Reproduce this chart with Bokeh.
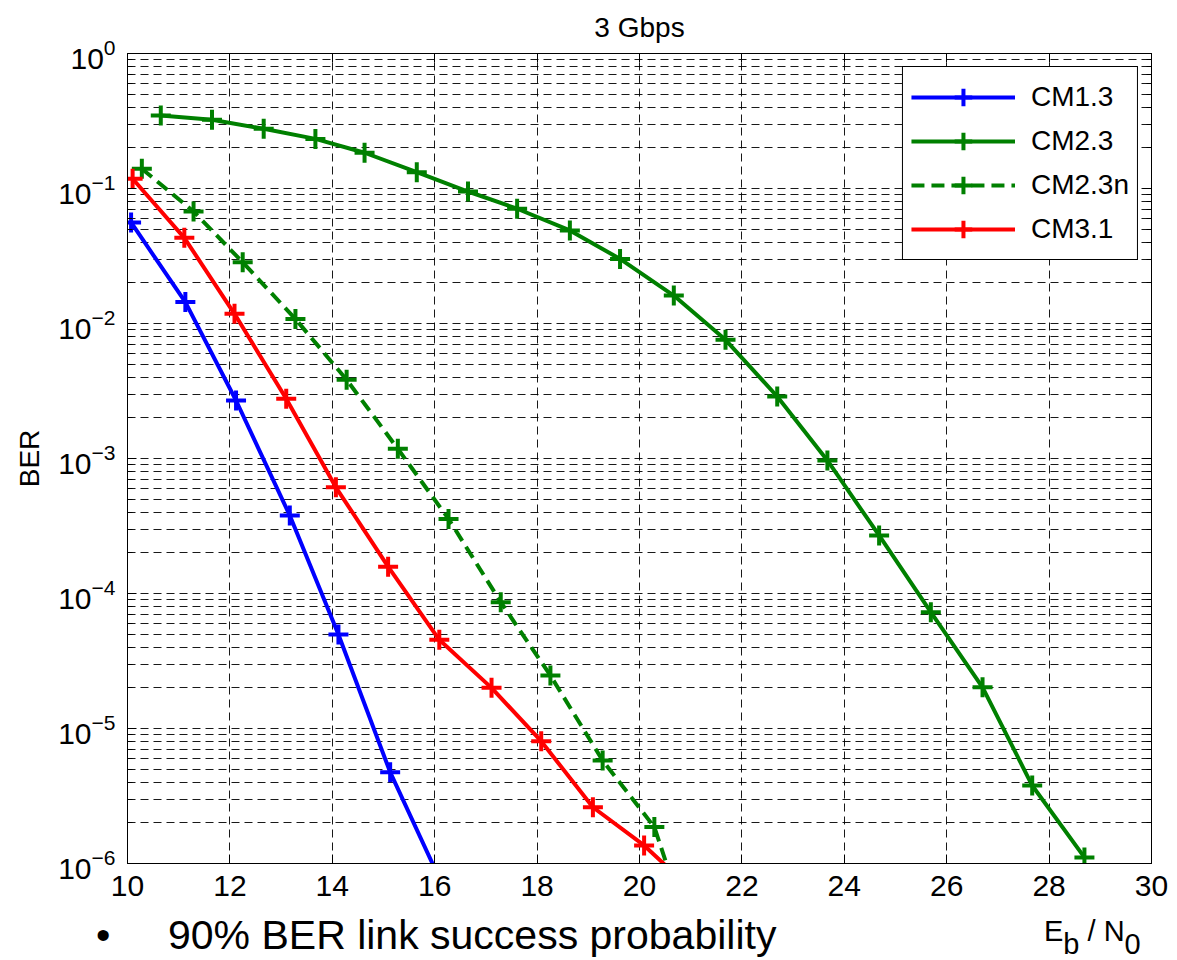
from bokeh.plotting import figure
from bokeh.layouts import column
from bokeh.models import (FixedTicker, LinearAxis, LogAxis, CustomJSTickFormatter, Div)
from bokeh.embed import file_html
from bokeh.resources import INLINE

# ---------------- data ----------------
x_ticks = [10, 12, 14, 16, 18, 20, 22, 24, 26, 28, 30]
y_ticks = [1e-6, 1e-5, 1e-4, 1e-3, 1e-2, 1e-1, 1e0]
y_minor = [m * 10.0 ** e for e in range(-6, 0) for m in range(2, 10)]

cm13_x = [10.07, 11.13, 12.12, 13.17, 14.12, 15.13, 16.13]
cm13_y = [0.056, 0.0144, 0.00269, 3.78e-4, 4.97e-5, 4.75e-6, 7.2e-7]

cm23_x = [10.65, 11.65, 12.66, 13.67, 14.63, 15.65, 16.65, 17.61, 18.64, 19.62,
          20.67, 21.68, 22.69, 23.67, 24.68, 25.69, 26.70, 27.67, 28.69]
cm23_y = [0.347, 0.323, 0.277, 0.233, 0.184, 0.132, 0.095, 0.0708, 0.0489, 0.0301,
          0.0161, 0.00757, 0.00288, 9.67e-4, 2.69e-4, 7.27e-5, 2.02e-5, 3.78e-6, 1.11e-6]

cm23n_x = [10.28, 11.29, 12.25, 13.28, 14.28, 15.28, 16.27, 17.29, 18.26, 19.28, 20.29, 21.3]
cm23n_y = [0.140, 0.0676, 0.0284, 0.0108, 0.00383, 0.00118, 3.57e-4, 8.63e-5, 2.47e-5,
           5.8e-6, 1.86e-6, 1.3e-7]

cm31_x = [10.10, 11.11, 12.09, 13.10, 14.07, 15.09, 16.09, 17.11, 18.08, 19.09, 20.09, 21.1]
cm31_y = [0.118, 0.0431, 0.0118, 0.00277, 6.12e-4, 1.58e-4, 4.54e-5, 2.0e-5, 8.05e-6,
          2.61e-6, 1.36e-6, 6e-7]

series = [
    ("CM1.3", cm13_x, cm13_y, "#0000FF", "solid"),
    ("CM2.3", cm23_x, cm23_y, "#008000", "solid"),
    ("CM2.3n", cm23n_x, cm23n_y, "#008000", "13 7"),
    ("CM3.1", cm31_x, cm31_y, "#FF0000", "solid"),
]

title_text = "3 Gbps"
bullet_text = "90% BER link success probability"

# ---------------- page geometry ----------------
W = 1177
BOT_H = 48           # strip with the bullet line and the x label
MAIN_H = 960 - BOT_H
FL, FT, FB = 127, 53, 863
NARROW = "Liberation Sans Narrow, Liberation Sans"

# ---------------- main figure ----------------
p = figure(width=W, height=MAIN_H, x_range=(10, 30), y_range=(1e-6, 1),
           y_axis_type="log", output_backend="svg", toolbar_location=None,
           min_border_left=FL, min_border_right=26, min_border_top=FT,
           min_border_bottom=MAIN_H - FB)
p.background_fill_color = "white"
p.border_fill_color = "white"
p.outline_line_color = "black"
p.outline_line_alpha = 1
p.outline_line_width = 1

p.title.text = title_text
p.title.align = "center"
p.title.vertical_align = "top"
p.title.text_font = "Liberation Sans"
p.title.text_font_size = "28px"
p.title.text_font_style = "normal"
p.title.text_color = "black"
p.title.standoff = 18

xt = FixedTicker(ticks=x_ticks)
yt = FixedTicker(ticks=y_ticks, minor_ticks=y_minor)

xa = p.xaxis[0]
xa.ticker = xt
xa.major_tick_in = 9
xa.major_tick_out = 0
xa.minor_tick_in = 0
xa.minor_tick_out = 0
xa.major_label_standoff = 12
xa.major_label_text_font = NARROW
xa.major_label_text_font_size = "30px"
xa.major_label_text_color = "black"
xa.axis_line_color = "black"
xa.major_tick_line_color = "black"

ya = p.yaxis[0]
ya.ticker = yt
ya.major_tick_in = 9
ya.major_tick_out = 0
ya.minor_tick_in = 5
ya.minor_tick_out = 0
ya.major_label_standoff = 12
ya.major_label_text_font = NARROW
ya.major_label_text_font_size = "30px"
ya.major_label_text_color = "black"
ya.axis_line_color = "black"
ya.axis_label = "BER"
ya.axis_label_text_font = "Liberation Sans"
ya.axis_label_text_font_size = "28px"
ya.axis_label_text_font_style = "normal"
ya.axis_label_text_color = "black"
ya.axis_label_standoff = 10

blank = CustomJSTickFormatter(code="return ''")
top = LinearAxis(ticker=xt, formatter=blank, major_tick_in=9, major_tick_out=0,
                 minor_tick_in=0, minor_tick_out=0, axis_line_color="black",
                 major_label_standoff=0)
p.add_layout(top, "above")
right = LogAxis(ticker=yt, formatter=blank, major_tick_in=9, major_tick_out=0,
                minor_tick_in=5, minor_tick_out=0, axis_line_color="black",
                major_label_standoff=0)
p.add_layout(right, "right")

xg = p.xgrid[0]
xg.ticker = xt
xg.grid_line_color = "black"
xg.grid_line_alpha = 0.9
xg.grid_line_dash = "8 5"
xg.grid_line_width = 1

yg = p.ygrid[0]
yg.ticker = yt
yg.grid_line_color = "black"
yg.grid_line_alpha = 0.9
yg.grid_line_dash = "8 5"
yg.grid_line_width = 1
yg.minor_grid_line_color = "black"
yg.minor_grid_line_alpha = 0.9
yg.minor_grid_line_dash = "8 5"
yg.minor_grid_line_width = 1

for name, xs, ys, col, dash in series:
    p.line(xs, ys, line_color=col, line_width=4, line_dash=dash, legend_label=name)
    p.scatter(xs, ys, marker="cross", size=20, line_color=col, line_width=4,
              legend_label=name)

lg = p.legend[0]
lg.location = "top_right"
lg.margin = 13
lg.padding = 8
lg.spacing = 0
lg.glyph_width = 104
lg.glyph_height = 44
lg.label_height = 44
lg.label_standoff = 16
lg.label_text_font = "Liberation Sans"
lg.label_text_font_size = "28px"
lg.label_text_color = "black"
lg.border_line_color = "black"
lg.border_line_width = 1
lg.border_line_alpha = 1
lg.background_fill_color = "white"
lg.background_fill_alpha = 1

# ---------------- bottom strip ----------------


def span(left, top, size, inner):
    return (f'<span style="position:absolute;left:{left}px;top:{top}px;'
            f"font-family:'Liberation Sans';font-size:{size}px;line-height:{size}px;"
            f'white-space:pre;color:black;">{inner}</span>')


SUB = '<span style="vertical-align:-13px;">{}</span>'
xlabel_html = "E" + SUB.format("b") + " / N" + SUB.format("0")

bot_html = (f'<div style="position:relative;width:{W}px;height:{BOT_H}px;'
            f'overflow:hidden;background:white;margin:0;padding:0;">'
            + span(96, 3, 41, "\u2022")
            + span(168, 3, 41, bullet_text)
            + span(1044, 5, 29, xlabel_html)
            + '</div>')
bottom = Div(text=bot_html, width=W, height=BOT_H, margin=(0, 0, 0, 0))

layout = column(p, bottom, spacing=0)
open("out.html", "w").write(file_html(layout, INLINE))
